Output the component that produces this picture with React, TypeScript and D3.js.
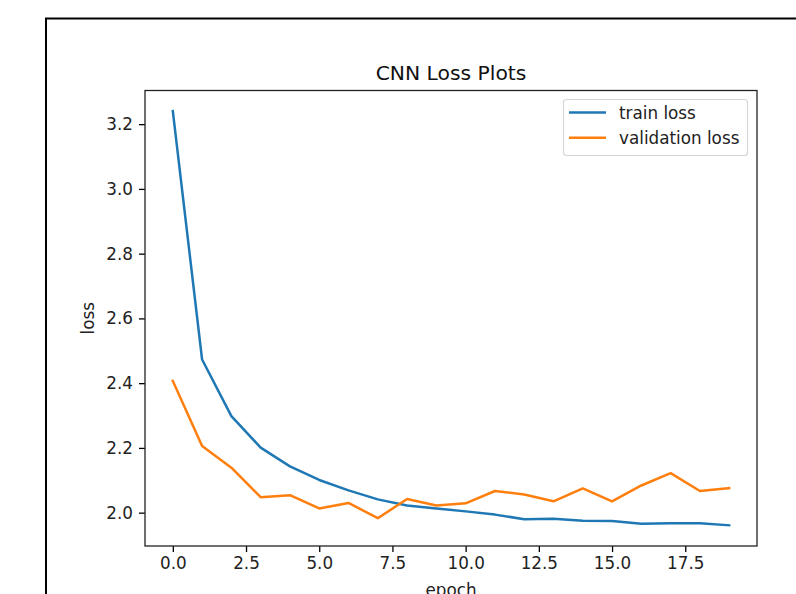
import * as d3 from "d3";
import React, { useEffect, useRef } from "react";

const epochs = [0, 1, 2, 3, 4, 5, 6, 7, 8, 9, 10, 11, 12, 13, 14, 15, 16, 17, 18, 19];

const trainLoss = [
  3.240, 2.473, 2.298, 2.201, 2.143, 2.101, 2.069, 2.041, 2.022, 2.013,
  2.004, 1.994, 1.980, 1.981, 1.975, 1.974, 1.966, 1.967, 1.967, 1.961,
];

const validationLoss = [
  2.407, 2.206, 2.139, 2.048, 2.054, 2.013, 2.030, 1.983, 2.042, 2.022,
  2.029, 2.067, 2.056, 2.035, 2.075, 2.035, 2.084, 2.122, 2.067, 2.076,
];

const xTicks = [0, 2.5, 5, 7.5, 10, 12.5, 15, 17.5];
const yTicks = [2.0, 2.2, 2.4, 2.6, 2.8, 3.0, 3.2];

const seriesNames = ["train loss", "validation loss"];
const seriesColors = ["#1f77b4", "#ff7f0e"];

function App() {
  const ref = useRef<SVGSVGElement | null>(null);

  useEffect(() => {
    const svg = d3.select(ref.current);
    svg.selectAll("*").remove();

    const font = "DejaVu Sans, sans-serif";
    const fs = "16.8px";
    const margin = { left: 145, top: 90.5, right: 757, bottom: 546 };

    // outer figure frame
    svg
      .append("rect")
      .attr("x", 46)
      .attr("y", 18.5)
      .attr("width", 800)
      .attr("height", 620)
      .attr("fill", "white")
      .attr("stroke", "black")
      .attr("stroke-width", 2);

    // matplotlib-like 5% margins
    const xMin = d3.min(epochs)!, xMax = d3.max(epochs)!;
    const allY = trainLoss.concat(validationLoss);
    const yMin = d3.min(allY)!, yMax = d3.max(allY)!;
    const xPad = (xMax - xMin) * 0.05;
    const yPad = (yMax - yMin) * 0.05;

    const x = d3
      .scaleLinear()
      .domain([xMin - xPad, xMax + xPad])
      .range([margin.left, margin.right]);
    const y = d3
      .scaleLinear()
      .domain([yMin - yPad, yMax + yPad])
      .range([margin.bottom, margin.top]);

    const xAxis = svg
      .append("g")
      .attr("transform", "translate(0," + margin.bottom + ")")
      .call(
        d3
          .axisBottom(x)
          .tickValues(xTicks)
          .tickFormat(d3.format(".1f"))
          .tickSize(6)
          .tickPadding(5)
      );
    xAxis.select(".domain").remove();
    xAxis.selectAll("line").attr("stroke", "#000").attr("stroke-width", 1.3);
    xAxis
      .selectAll("text")
      .attr("fill", "#222")
      .style("font-family", font)
      .style("font-size", fs);

    const yAxis = svg
      .append("g")
      .attr("transform", "translate(" + margin.left + ",0)")
      .call(
        d3
          .axisLeft(y)
          .tickValues(yTicks)
          .tickFormat(d3.format(".1f"))
          .tickSize(6)
          .tickPadding(6)
      );
    yAxis.select(".domain").remove();
    yAxis.selectAll("line").attr("stroke", "#000").attr("stroke-width", 1.3);
    yAxis
      .selectAll("text")
      .attr("fill", "#222")
      .style("font-family", font)
      .style("font-size", fs);

    const line = d3
      .line<number>()
      .x((d, i) => x(epochs[i]))
      .y((d) => y(d));

    [trainLoss, validationLoss].forEach((values, i) => {
      svg
        .append("path")
        .datum(values)
        .attr("fill", "none")
        .attr("stroke", seriesColors[i])
        .attr("stroke-width", 2.5)
        .attr("stroke-linejoin", "round")
        .attr("stroke-linecap", "square")
        .attr("d", line);
    });

    // axes box
    svg
      .append("rect")
      .attr("x", margin.left)
      .attr("y", margin.top)
      .attr("width", margin.right - margin.left)
      .attr("height", margin.bottom - margin.top)
      .attr("fill", "none")
      .attr("stroke", "#222")
      .attr("stroke-width", 1.3);

    svg
      .append("text")
      .attr("x", (margin.left + margin.right) / 2)
      .attr("y", 80)
      .attr("text-anchor", "middle")
      .style("font-family", font)
      .style("font-size", "20.3px")
      .attr("fill", "#111")
      .text("CNN Loss Plots");

    svg
      .append("text")
      .attr("x", (margin.left + margin.right) / 2)
      .attr("y", 596)
      .attr("text-anchor", "middle")
      .style("font-family", font)
      .style("font-size", fs)
      .attr("fill", "#222")
      .text("epoch");

    svg
      .append("text")
      .attr(
        "transform",
        "translate(94," + (margin.top + margin.bottom) / 2 + ") rotate(-90)"
      )
      .attr("text-anchor", "middle")
      .style("font-family", font)
      .style("font-size", fs)
      .attr("fill", "#222")
      .text("loss");

    // legend
    const legend = svg.append("g");
    legend
      .append("rect")
      .attr("x", 563.5)
      .attr("y", 99.5)
      .attr("width", 184)
      .attr("height", 56)
      .attr("rx", 3)
      .attr("fill", "white")
      .attr("fill-opacity", 0.8)
      .attr("stroke", "#d6d6d6")
      .attr("stroke-width", 1.2);

    seriesNames.forEach((name, i) => {
      const ly = 112.5 + i * 25.3;
      legend
        .append("line")
        .attr("x1", 569)
        .attr("x2", 606)
        .attr("y1", ly)
        .attr("y2", ly)
        .attr("stroke", seriesColors[i])
        .attr("stroke-width", 2.5);
      legend
        .append("text")
        .attr("x", 619)
        .attr("y", ly + 6)
        .style("font-family", font)
        .style("font-size", fs)
        .attr("fill", "#222")
        .text(name);
    });
  }, []);

  return (
    <svg
      ref={ref}
      width={796}
      height={594}
      style={{ position: "absolute", left: 0, top: 0, display: "block", background: "white" }}
    />
  );
}

export default App;
